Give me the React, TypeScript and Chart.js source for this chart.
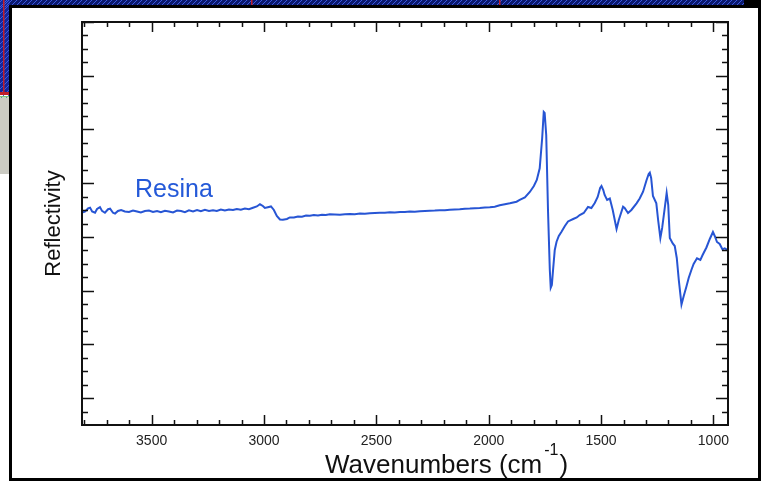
import { useEffect, useRef } from "react";
import { Chart, registerables } from "chart.js";

Chart.register(...registerables);

// Wavenumber (cm^-1) of each sampled point of the spectrum
const wavenumbers = [
  3810, 3797, 3783, 3774, 3765, 3752, 3743, 3730, 3721, 3708, 3694, 3685, 3672, 3663, 3650, 3636,
  3619, 3601, 3583, 3565, 3548, 3530, 3512, 3494, 3476, 3459, 3441, 3423, 3405, 3387, 3369, 3352,
  3334, 3316, 3298, 3281, 3263, 3245, 3227, 3210, 3192, 3174, 3156, 3138, 3121, 3103, 3085, 3067,
  3049, 3032, 3018, 3005, 2996, 2983, 2969, 2956, 2943, 2929, 2916, 2898, 2885, 2867, 2849, 2831,
  2813, 2796, 2778, 2760, 2742, 2725, 2707, 2685, 2662, 2640, 2618, 2596, 2573, 2551, 2529, 2507,
  2484, 2462, 2440, 2418, 2395, 2373, 2351, 2329, 2306, 2284, 2262, 2240, 2218, 2195, 2173, 2151,
  2129, 2106, 2084, 2062, 2040, 2017, 1995, 1973, 1951, 1928, 1906, 1876, 1862, 1839, 1817, 1799,
  1786, 1773, 1762, 1755, 1751, 1744, 1736, 1728, 1724, 1719, 1713, 1706, 1698, 1688, 1676, 1661,
  1647, 1624, 1608, 1595, 1577, 1558, 1543, 1528, 1515, 1504, 1498, 1490, 1484, 1473, 1461, 1448,
  1431, 1421, 1402, 1395, 1380, 1365, 1342, 1328, 1313, 1298, 1288, 1283, 1277, 1269, 1254, 1246,
  1236, 1228, 1217, 1208, 1201, 1194, 1181, 1172, 1163, 1154, 1142, 1132, 1120, 1110, 1098, 1088,
  1073, 1058, 1048, 1031, 1016, 1002, 994, 984, 972, 960, 950, 936,
];

// Reflectivity (arbitrary units) at each wavenumber
const reflectivity = [
  3.955, 3.970, 4.030, 4.045, 3.975, 3.950, 4.020, 4.055, 3.985, 3.950, 4.015, 4.025, 3.950, 3.935, 3.983, 4.002,
  3.974, 3.964, 3.992, 3.974, 3.955, 3.983, 3.992, 3.964, 3.983, 3.959, 3.988, 3.974, 3.955, 3.992, 3.983, 3.961,
  3.996, 3.974, 4.002, 3.979, 4.005, 3.983, 3.998, 3.983, 4.011, 3.992, 4.011, 4.002, 4.020, 4.005, 4.029, 4.016,
  4.042, 4.067, 4.108, 4.076, 4.039, 4.052, 4.067, 4.002, 3.890, 3.825, 3.819, 3.834, 3.862, 3.862, 3.881, 3.875,
  3.899, 3.894, 3.908, 3.899, 3.914, 3.908, 3.921, 3.918, 3.912, 3.923, 3.927, 3.921, 3.936, 3.933, 3.942, 3.946,
  3.949, 3.948, 3.959, 3.957, 3.964, 3.964, 3.972, 3.968, 3.977, 3.983, 3.987, 3.990, 3.996, 3.996, 4.005, 4.011,
  4.015, 4.024, 4.028, 4.035, 4.039, 4.046, 4.052, 4.063, 4.091, 4.110, 4.126, 4.156, 4.188, 4.234, 4.337, 4.448,
  4.560, 4.778, 5.342, 5.825, 5.807, 5.397, 3.983, 2.885, 2.555, 2.606, 2.916, 3.257, 3.411, 3.518, 3.598, 3.704,
  3.788, 3.834, 3.862, 3.908, 3.946, 4.057, 4.039, 4.132, 4.243, 4.411, 4.448, 4.374, 4.281, 4.188, 4.215, 4.002,
  3.648, 3.815, 4.063, 4.039, 3.946, 4.002, 4.126, 4.215, 4.342, 4.551, 4.672, 4.696, 4.597, 4.262, 4.126, 3.815,
  3.480, 3.667, 4.020, 4.318, 4.095, 3.480, 3.378, 3.331, 3.108, 2.699, 2.243, 2.401, 2.578, 2.736, 2.885, 2.996,
  3.103, 3.071, 3.164, 3.304, 3.462, 3.592, 3.518, 3.406, 3.369, 3.270, 3.289, 3.257,
];

const xMin = 935;
const xMax = 3810;
const yMin = 0;
const yMax = 7.5;
const xMajorTicks = [3500, 3000, 2500, 2000, 1500, 1000];
const xMinorStep = 100;
const yMajorStart = 0.5;
const yMinorStep = 0.25;

const seriesName = "Resina";
const seriesLabelAt = { x: 3574, y: 4.243 };
const xTitleMain = "Wavenumbers (cm";
const xTitleSup = "-1";
const xTitleEnd = ")";
const yTitle = "Reflectivity";

const FONT = "'Liberation Sans', Arial, Helvetica, sans-serif";
const LINE_BLUE = "#2755d4";
const TEXT_BLUE = "#2459d8";

const decorPlugin = {
  id: "decor",
  beforeDraw(chart: any) {
    const ctx = chart.ctx as CanvasRenderingContext2D;
    const W = chart.width;
    const H = chart.height;
    ctx.save();
    ctx.fillStyle = "#ffffff";
    ctx.fillRect(0, 0, W, H);
    // top strip (hatched slide background)
    ctx.fillStyle = "#0c1a6e";
    ctx.fillRect(0, 0, W, 7);
    ctx.fillStyle = "#16259a";
    ctx.fillRect(0, 0, 10, 94);
    ctx.strokeStyle = "#3a5ae0";
    ctx.lineWidth = 1;
    ctx.beginPath();
    for (let i = -100; i < W + 10; i += 5) {
      ctx.moveTo(i, 7);
      ctx.lineTo(i + 7, 0);
    }
    for (let j = 0; j < 100; j += 5) {
      ctx.moveTo(0, j + 9);
      ctx.lineTo(9, j);
    }
    ctx.stroke();
    ctx.fillStyle = "#000000";
    ctx.fillRect(744, 0, 17, 7);
    ctx.fillStyle = "#c0202a";
    ctx.fillRect(3, 0, 1.5, 94);
    ctx.fillRect(251, 0, 1.5, 6);
    ctx.fillRect(499, 0, 1.5, 6);
    ctx.fillRect(0, 92, 10, 3);
    ctx.fillStyle = "#7fc07a";
    ctx.fillRect(0, 96, 10, 1.5);
    ctx.fillStyle = "#cbcbc3";
    ctx.fillRect(0, 98, 10, 76);
    // white box with black frame
    ctx.fillStyle = "#ffffff";
    ctx.fillRect(10, 6, W - 10, H - 6);
    ctx.strokeStyle = "#000000";
    ctx.lineWidth = 3;
    ctx.strokeRect(10.5, 6.5, W - 12, H - 8);
    ctx.restore();
  },
  afterDraw(chart: any) {
    const ctx = chart.ctx as CanvasRenderingContext2D;
    const { left, right, top, bottom } = chart.chartArea;
    const xs = chart.scales.x;
    const ys = chart.scales.y;
    ctx.save();
    // ticks (inward)
    ctx.strokeStyle = "#111111";
    ctx.lineWidth = 1.5;
    ctx.beginPath();
    for (let v = 1000; v <= xMax; v += xMinorStep) {
      const px = Math.round(xs.getPixelForValue(v)) + 0.5;
      if (px < left || px > right) continue;
      const major = v % 500 === 0;
      const len = major ? 10 : 5;
      ctx.moveTo(px, bottom);
      ctx.lineTo(px, bottom - len);
      ctx.moveTo(px, top);
      ctx.lineTo(px, top + len);
    }
    for (let v = yMinorStep; v <= yMax + 1e-9; v += yMinorStep) {
      const py = Math.round(ys.getPixelForValue(v)) + 0.5;
      const major = Math.abs(((v - yMajorStart) % 1 + 1) % 1) < 1e-6;
      const len = major ? 12 : 6;
      ctx.moveTo(left, py);
      ctx.lineTo(left + len, py);
      ctx.moveTo(right, py);
      ctx.lineTo(right - len, py);
    }
    ctx.stroke();
    // plot frame
    ctx.strokeStyle = "#111111";
    ctx.lineWidth = 2;
    ctx.strokeRect(left, top, right - left, bottom - top);

    // series label
    ctx.fillStyle = TEXT_BLUE;
    ctx.font = `25px ${FONT}`;
    ctx.textBaseline = "alphabetic";
    ctx.textAlign = "left";
    ctx.fillText(seriesName, xs.getPixelForValue(seriesLabelAt.x), ys.getPixelForValue(seriesLabelAt.y));

    // x title with superscript
    ctx.fillStyle = "#111111";
    ctx.font = `26px ${FONT}`;
    const tx = 325;
    const ty = 473;
    ctx.fillText(xTitleMain, tx, ty);
    const w1 = ctx.measureText(xTitleMain).width;
    ctx.font = `16px ${FONT}`;
    ctx.fillText(xTitleSup, tx + w1 + 2, ty - 18);
    const w2 = ctx.measureText(xTitleSup).width;
    ctx.font = `26px ${FONT}`;
    ctx.fillText(xTitleEnd, tx + w1 + w2 + 3, ty);

    // y title
    ctx.font = `22px ${FONT}`;
    ctx.textAlign = "center";
    ctx.textBaseline = "middle";
    ctx.translate(54, (top + bottom) / 2);
    ctx.rotate(-Math.PI / 2);
    ctx.fillText(yTitle, 0, 0);
    ctx.restore();
  },
};

export default function App() {
  const canvasRef = useRef<HTMLCanvasElement | null>(null);

  useEffect(() => {
    const canvas = canvasRef.current;
    if (!canvas) return;
    const points = wavenumbers.map((x, i) => ({ x, y: reflectivity[i] }));
    const chart = new Chart(canvas, {
      type: "line",
      data: {
        datasets: [
          {
            label: seriesName,
            data: points,
            borderColor: LINE_BLUE,
            borderWidth: 2,
            pointRadius: 0,
            tension: 0,
            fill: false,
          },
        ],
      },
      options: {
        animation: false,
        responsive: false,
        maintainAspectRatio: false,
        devicePixelRatio: 1,
        events: [],
        layout: { padding: { left: 10, top: 22, right: 33, bottom: 0 } },
        plugins: {
          legend: { display: false },
          tooltip: { enabled: false },
          title: { display: false },
        },
        scales: {
          x: {
            type: "linear",
            reverse: true,
            min: xMin,
            max: xMax,
            afterBuildTicks: (s: any) => {
              s.ticks = xMajorTicks.map((v) => ({ value: v }));
            },
            afterFit: (s: any) => {
              s.height = 56;
            },
            ticks: {
              autoSkip: false,
              maxRotation: 0,
              minRotation: 0,
              padding: 8,
              color: "#222222",
              font: { family: FONT, size: 14 },
              callback: (v: any) => String(v),
            },
            grid: { display: false, drawTicks: false },
            border: { display: false },
          },
          y: {
            type: "linear",
            min: yMin,
            max: yMax,
            afterFit: (s: any) => {
              s.width = 72;
            },
            ticks: { display: false },
            grid: { display: false, drawTicks: false },
            border: { display: false },
          },
        },
      },
      plugins: [decorPlugin],
    });
    return () => chart.destroy();
  }, []);

  return (
    <canvas
      ref={canvasRef}
      width={761}
      height={481}
      style={{ position: "fixed", left: 0, top: 0, width: 761, height: 481, display: "block" }}
    />
  );
}
